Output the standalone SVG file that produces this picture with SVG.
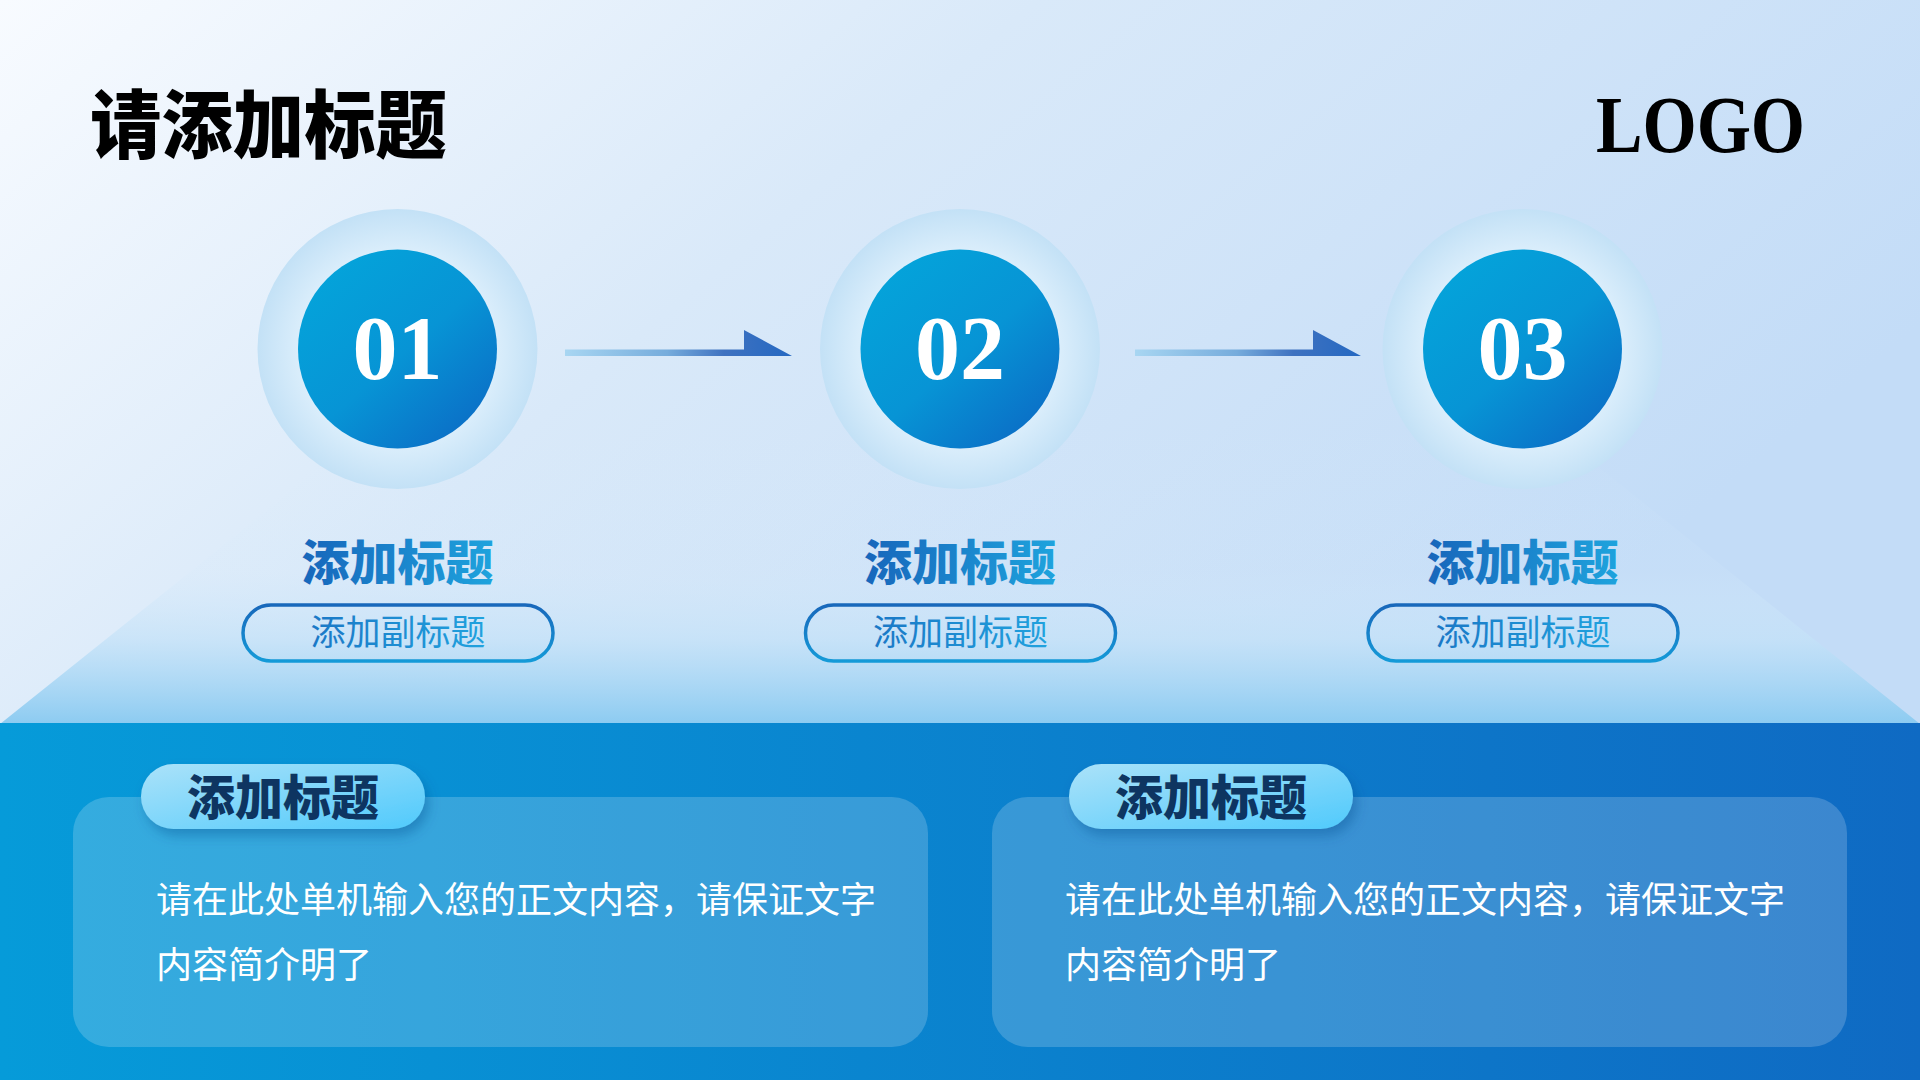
<svg xmlns="http://www.w3.org/2000/svg" width="1920" height="1080" viewBox="0 0 1920 1080">
<defs>
<linearGradient id="bg" x1="0" y1="0" x2="1" y2="0.45">
<stop offset="0" stop-color="#f8fbff"/>
<stop offset="0.45" stop-color="#d9e9f9"/>
<stop offset="1" stop-color="#c3dcf7"/>
</linearGradient>
<linearGradient id="stage" x1="0" y1="0" x2="0" y2="1">
<stop offset="0" stop-color="#dcedfb" stop-opacity="0"/>
<stop offset="0.5" stop-color="#d4e9fa" stop-opacity="0.15"/>
<stop offset="0.72" stop-color="#c4e2f8" stop-opacity="0.75"/>
<stop offset="1" stop-color="#8ccbf1"/>
</linearGradient>
<linearGradient id="band" x1="0" y1="0" x2="1" y2="0">
<stop offset="0" stop-color="#069bd9"/>
<stop offset="1" stop-color="#0f6ac3"/>
</linearGradient>
<radialGradient id="halo" cx="0.5" cy="0.5" r="0.5">
<stop offset="0" stop-color="#e6f3fd"/>
<stop offset="0.72" stop-color="#d9edfb"/>
<stop offset="1" stop-color="#c3e1f6"/>
</radialGradient>
<linearGradient id="disc" x1="0.15" y1="0.1" x2="0.9" y2="0.95">
<stop offset="0" stop-color="#04a3da"/>
<stop offset="0.5" stop-color="#0794d5"/>
<stop offset="1" stop-color="#0b6bc5"/>
</linearGradient>
<linearGradient id="arrowG" x1="0" y1="0" x2="1" y2="0">
<stop offset="0" stop-color="#a8d6f2"/>
<stop offset="0.45" stop-color="#76acdc"/>
<stop offset="0.7" stop-color="#3f72c0"/>
<stop offset="1" stop-color="#2468c2"/>
</linearGradient>
<linearGradient id="headG" x1="0" y1="0" x2="1" y2="0">
<stop offset="0" stop-color="#1766bb"/>
<stop offset="1" stop-color="#1ea3dd"/>
</linearGradient>
<linearGradient id="pillStroke" x1="0" y1="0" x2="0" y2="1">
<stop offset="0" stop-color="#1868bb"/>
<stop offset="1" stop-color="#149ad8"/>
</linearGradient>
<linearGradient id="subG" x1="0" y1="0" x2="1" y2="0">
<stop offset="0" stop-color="#1a78c6"/>
<stop offset="1" stop-color="#20a2de"/>
</linearGradient>
<linearGradient id="tabG" x1="0" y1="0" x2="1" y2="1">
<stop offset="0" stop-color="#abe2f9"/>
<stop offset="1" stop-color="#50cafc"/>
</linearGradient>
<filter id="shadow" x="-20%" y="-30%" width="140%" height="180%">
<feDropShadow dx="4" dy="7" stdDeviation="6" flood-color="#0a4a8c" flood-opacity="0.35"/>
</filter>
</defs>
<style>
.cjk{font-family:"Noto Sans CJK SC","Noto Sans",sans-serif}
.title{font-size:74px;font-weight:900;fill:#000}
.logo{font-family:"Liberation Serif",serif;font-size:80px;font-weight:700;fill:#000}
.num{font-family:"Liberation Serif",serif;font-size:90px;font-weight:700;fill:#fff;text-anchor:middle}
.head{font-size:48px;font-weight:900;fill:url(#headG);text-anchor:middle}
.sub{font-size:35px;font-weight:400;fill:url(#subG);text-anchor:middle}
.pill{fill:none;stroke:url(#pillStroke);stroke-width:3.5}
.halo{fill:url(#halo)}
.disc{fill:url(#disc)}
.card{fill:#ffffff;fill-opacity:0.19}
.tab{fill:url(#tabG)}
.tabtext{font-size:48px;font-weight:900;fill:#0e3561;text-anchor:middle}
.body{font-size:36px;font-weight:400;fill:#ffffff}
.arrow{fill:url(#arrowG)}
</style>

<rect x="0" y="0" width="1920" height="724" fill="url(#bg)"/>
<polygon points="0,724 1920,724 1540,420 380,420" fill="url(#stage)"/>
<rect x="0" y="723" width="1920" height="357" fill="url(#band)"/>

<text class="cjk title" x="90" y="152" textLength="357" lengthAdjust="spacingAndGlyphs">请添加标题</text>
<text class="logo" x="1596" y="152" textLength="209" lengthAdjust="spacingAndGlyphs">LOGO</text>

<g id="connectors">
<path class="arrow" d="M565,349.5 H744 V330 L792,356 H565 Z"/>
<path class="arrow" d="M1135,349.5 H1313 V330 L1361,356 H1135 Z"/>
</g>

<g id="step1">
<circle class="halo" cx="397.5" cy="349" r="140"/>
<circle class="disc" cx="397.5" cy="349" r="99.5"/>
<text class="num" x="397.5" y="379">01</text>
<text class="cjk head" x="397.5" y="580">添加标题</text>
<rect class="pill" x="243" y="605" width="310" height="56" rx="28"/>
<text class="cjk sub" x="398" y="645">添加副标题</text>
</g>

<g id="step2">
<circle class="halo" cx="960" cy="349" r="140"/>
<circle class="disc" cx="960" cy="349" r="99.5"/>
<text class="num" x="960" y="379">02</text>
<text class="cjk head" x="960" y="580">添加标题</text>
<rect class="pill" x="805.5" y="605" width="310" height="56" rx="28"/>
<text class="cjk sub" x="960.5" y="645">添加副标题</text>
</g>

<g id="step3">
<circle class="halo" cx="1522.5" cy="349" r="140"/>
<circle class="disc" cx="1522.5" cy="349" r="99.5"/>
<text class="num" x="1522.5" y="379">03</text>
<text class="cjk head" x="1522.5" y="580">添加标题</text>
<rect class="pill" x="1368" y="605" width="310" height="56" rx="28"/>
<text class="cjk sub" x="1523" y="645">添加副标题</text>
</g>

<g id="card1">
<rect class="card" x="73" y="797" width="855" height="250" rx="36"/>
<rect class="tab" x="141" y="764" width="284" height="65" rx="32.5" filter="url(#shadow)"/>
<text class="cjk tabtext" x="283" y="815">添加标题</text>
<text class="cjk body" x="156" y="913">请在此处单机输入您的正文内容，请保证文字</text>
<text class="cjk body" x="156" y="978">内容简介明了</text>
</g>

<g id="card2">
<rect class="card" x="992" y="797" width="855" height="250" rx="36"/>
<rect class="tab" x="1069" y="764" width="284" height="65" rx="32.5" filter="url(#shadow)"/>
<text class="cjk tabtext" x="1211" y="815">添加标题</text>
<text class="cjk body" x="1065" y="913">请在此处单机输入您的正文内容，请保证文字</text>
<text class="cjk body" x="1065" y="978">内容简介明了</text>
</g>
</svg>
